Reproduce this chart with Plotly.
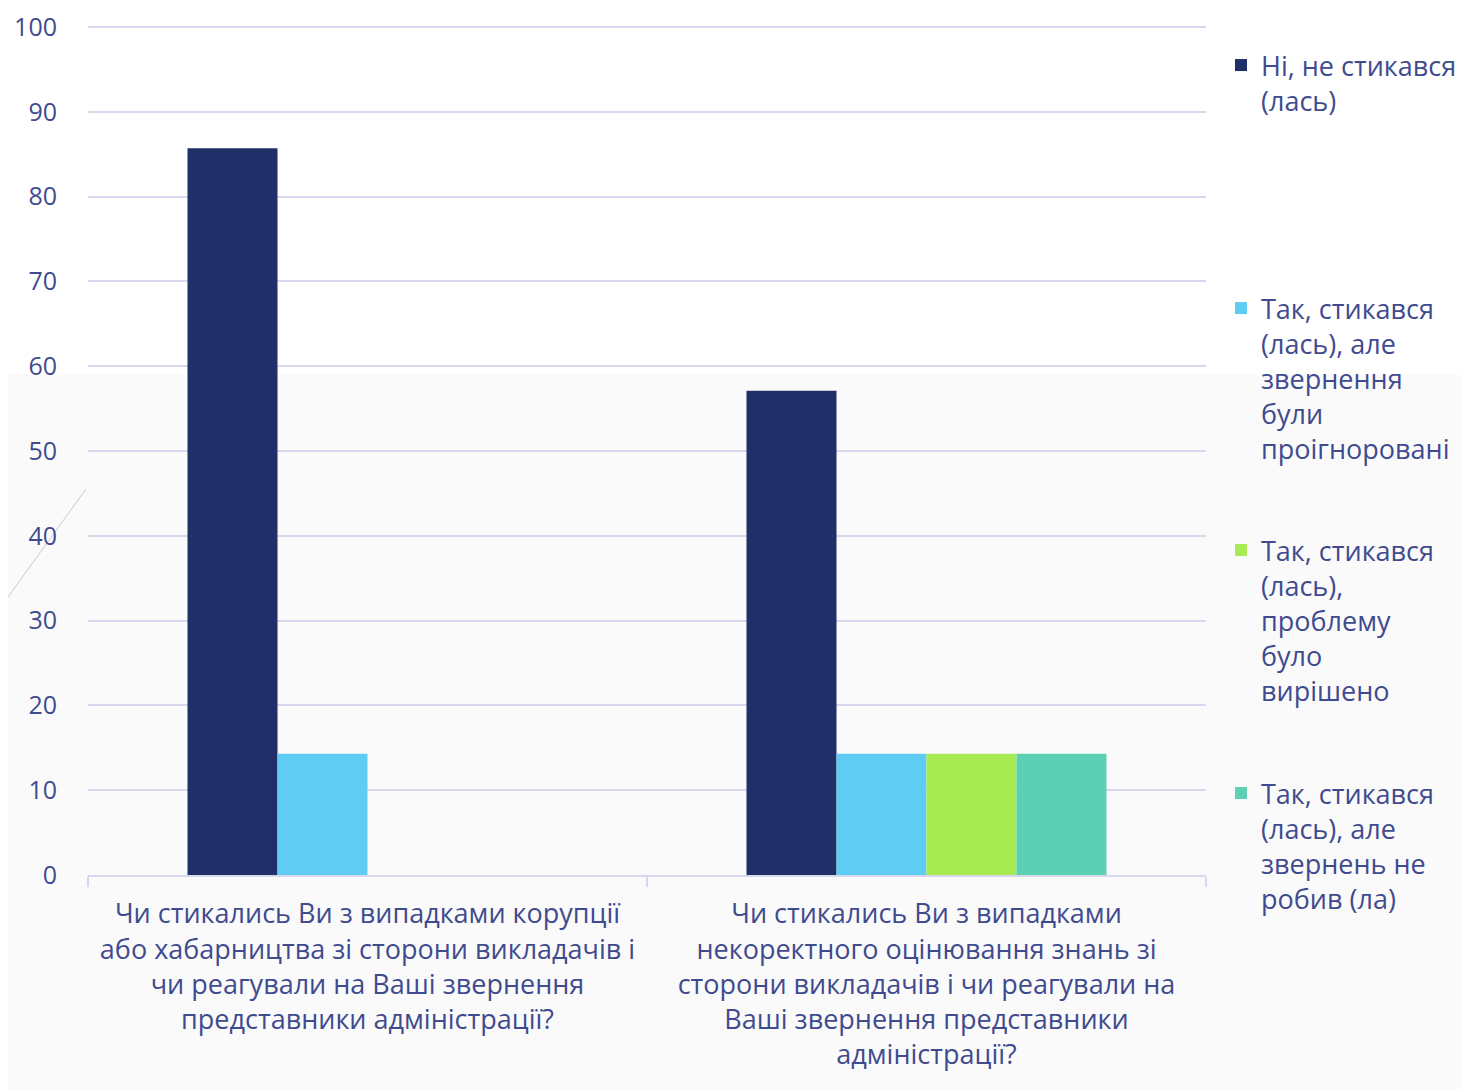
import plotly.graph_objects as go

categories = [
    "Чи стикались Ви з випадками корупції<br>або хабарництва зі сторони викладачів і<br>чи реагували на Ваші звернення<br>представники адміністрації?",
    "Чи стикались Ви з випадками<br>некоректного оцінювання знань зі<br>сторони викладачів і чи реагували на<br>Ваші звернення представники<br>адміністрації?",
]
series_names = [
    "Ні, не стикався<br>(лась)",
    "Так, стикався<br>(лась), але<br>звернення<br>були<br>проігноровані",
    "Так, стикався<br>(лась),<br>проблему<br>було<br>вирішено",
    "Так, стикався<br>(лась), але<br>звернень не<br>робив (ла)",
]
values_no = [85.7, 57.1]
values_ignored = [14.3, 14.3]
values_solved = [0, 14.3]
values_not_applied = [0, 14.3]
colors = ["#212F69", "#5FCDF3", "#A8EB52", "#5DCFB3"]
y_ticks = [0, 10, 20, 30, 40, 50, 60, 70, 80, 90, 100]

# page has an 8px body margin; work in screenshot pixels and convert
OFF = 8
W, H = 1462, 1081
L, T = 88 - OFF, 25 - OFF
PR, PB = 1206 - OFF, 875 - OFF
R, B = W - PR, H - PB
pw, ph = PR - L, PB - T

def px_x(px):
    return (px - OFF - L) / pw

def px_y(py):
    return (PB - (py - OFF)) / ph

text_color = "#3F4B8E"
grid_color = "#D6D9EE"
font_family = "Open Sans"

fig = go.Figure()
all_values = [values_no, values_ignored, values_solved, values_not_applied]
legend_ids = ["legend", "legend2", "legend3", "legend4"]
for name, vals, col, lg in zip(series_names, all_values, colors, legend_ids):
    fig.add_trace(go.Bar(x=categories, y=vals, name=name, marker_color=col,
                         marker_line_width=0, legend=lg))

legend_centers = [65, 308, 550, 793]
legend_common = dict(
    x=px_x(1221), xanchor="left", yanchor="top",
    font=dict(family=font_family, size=27, color=text_color),
    bgcolor="rgba(0,0,0,0)", valign="top", itemwidth=30,
)
layout_legends = {}
for lg, c in zip(legend_ids, legend_centers):
    layout_legends[lg] = dict(legend_common, y=px_y(c - 24))

fig.update_layout(
    width=W, height=H,
    margin=dict(l=L, r=R, t=T, b=B, autoexpand=False),
    paper_bgcolor="white",
    plot_bgcolor="rgba(0,0,0,0)",
    barmode="group",
    bargap=0.356,
    bargroupgap=0,
    font=dict(family=font_family, color=text_color),
    showlegend=True,
    **layout_legends,
    xaxis=dict(
        tickson="boundaries", ticks="outside", ticklen=10, tickwidth=2,
        tickcolor=grid_color, showline=True, linecolor=grid_color, linewidth=2,
        showgrid=False, ticklabelstandoff=14,
        tickfont=dict(family=font_family, size=27, color=text_color),
    ),
    yaxis=dict(
        range=[0, 100.25], tickvals=y_ticks, showgrid=True, gridcolor=grid_color,
        gridwidth=2, zeroline=False, showline=False, ticks="",
        ticklabelstandoff=30, ticklabeloverflow="allow",
        tickfont=dict(family=font_family, size=25, color=text_color),
    ),
    shapes=[
        dict(type="rect", xref="paper", yref="paper",
             x0=px_x(0), x1=px_x(1480), y0=px_y(1100), y1=px_y(375),
             fillcolor="#FAFAFA", line_width=0, layer="below"),
        dict(type="line", xref="paper", yref="paper",
             x0=px_x(8), y0=px_y(597), x1=px_x(86), y1=px_y(489),
             line=dict(color="#C9C9D2", width=1), layer="below"),
    ],
)

fig.write_html("out.html")
